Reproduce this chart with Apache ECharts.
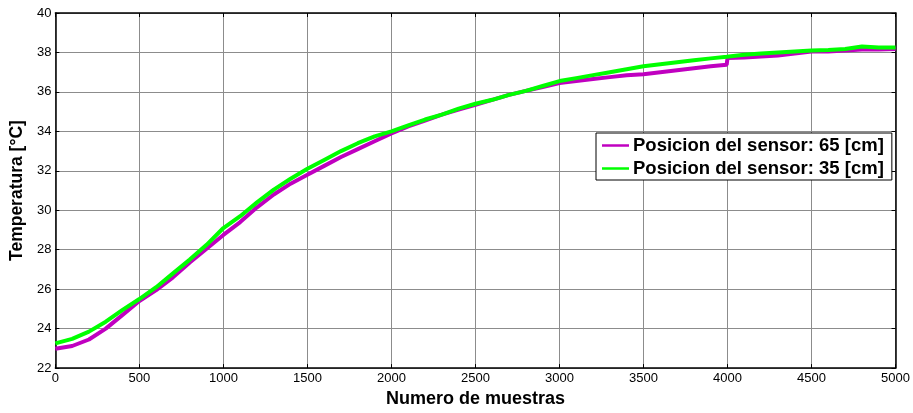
<!DOCTYPE html>
<html>
<head>
<meta charset="utf-8">
<script src="https://cdn.jsdelivr.net/npm/echarts@6/dist/echarts.min.js"></script>
<style>
  html, body { margin: 0; padding: 0; background: #fff; }
  #chart { width: 913px; height: 413px; }
</style>
</head>
<body>
<div id="chart"></div>
<script>
// Sample index of each reading
const samples = [0, 100, 200, 300, 400, 500, 600, 700, 800, 900,
  1000, 1100, 1200, 1300, 1400, 1500, 1600, 1700, 1800, 1900,
  2000, 2100, 2200, 2300, 2400, 2500, 2600, 2700, 2800, 2900,
  3000, 3100, 3200, 3300, 3400, 3500, 3600, 3700, 3800, 3900,
  3995, 4000, 4100, 4200, 4300, 4400, 4500, 4600, 4700, 4800, 4900, 5000];

// Temperature [°C], sensor at 65 cm
const temp65 = [22.98, 23.12, 23.45, 24.0, 24.7, 25.4, 25.95, 26.6, 27.35, 28.05,
  28.75, 29.4, 30.15, 30.8, 31.35, 31.8, 32.25, 32.7, 33.1, 33.5,
  33.9, 34.25, 34.55, 34.85, 35.1, 35.35, 35.6, 35.85, 36.05, 36.25,
  36.45, 36.55, 36.65, 36.75, 36.85, 36.9, 37.0, 37.1, 37.2, 37.3,
  37.38, 37.72, 37.75, 37.8, 37.85, 37.95, 38.05, 38.05, 38.1, 38.15, 38.15, 38.18];

// Temperature [°C], sensor at 35 cm
const temp35 = [23.25, 23.48, 23.85, 24.35, 24.95, 25.5, 26.1, 26.8, 27.5, 28.25,
  29.1, 29.7, 30.4, 31.05, 31.6, 32.1, 32.55, 33.0, 33.4, 33.75,
  34.0, 34.3, 34.6, 34.85, 35.15, 35.4, 35.6, 35.85, 36.05, 36.3,
  36.55, 36.7, 36.85, 37.0, 37.15, 37.3, 37.4, 37.5, 37.6, 37.7,
  37.78, 37.8, 37.88, 37.95, 38.0, 38.05, 38.1, 38.12, 38.18, 38.3, 38.25, 38.25];

const seriesNames = ['Posicion del sensor: 65 [cm]', 'Posicion del sensor: 35 [cm]'];
const xTitle = 'Numero de muestras';
const yTitle = 'Temperatura [°C]';

const pairs = (ys) => samples.map((s, i) => [s, ys[i]]);

const FONT = 'Liberation Sans, Arial, sans-serif';
const gridLine = { show: true, lineStyle: { color: '#8c8c8c', width: 1 } };
const frame = { show: true, onZero: false, lineStyle: { color: '#000', width: 1.5 } };
const innerTick = { show: true, inside: true, length: 4, lineStyle: { color: '#000', width: 1 } };

const chart = echarts.init(document.getElementById('chart'), null, { renderer: 'canvas' });
chart.setOption({
  animation: false,
  backgroundColor: '#fff',
  grid: { left: 54, right: 16, top: 13, bottom: 35 },
  legend: {
    data: seriesNames,
    orient: 'vertical',
    left: 596,
    top: 133,
    backgroundColor: '#fff',
    borderColor: '#000',
    borderWidth: 1,
    borderRadius: 0,
    padding: [3, 8, 2, 6],
    itemGap: 4,
    itemWidth: 27,
    itemHeight: 2.5,
    icon: 'rect',
    textStyle: { fontFamily: FONT, fontWeight: 'bold', fontSize: 18.5, color: '#000', padding: [0, 0, 0, -1] }
  },
  xAxis: [{
    type: 'value', min: 0, max: 5000, interval: 500,
    name: xTitle, nameLocation: 'middle', nameGap: 18,
    nameTextStyle: { fontFamily: FONT, fontWeight: 'bold', fontSize: 18, color: '#000' },
    axisLine: frame, axisTick: innerTick, splitLine: gridLine,
    axisLabel: { fontFamily: FONT, fontSize: 13, color: '#000', margin: 4, formatter: (v) => String(v) }
  }, {
    type: 'value', min: 0, max: 5000, interval: 500, position: 'top',
    axisLine: frame, axisTick: innerTick, splitLine: { show: false }, axisLabel: { show: false }
  }],
  yAxis: [{
    type: 'value', min: 22, max: 40, interval: 2,
    name: yTitle, nameLocation: 'middle', nameGap: 25,
    nameTextStyle: { fontFamily: FONT, fontWeight: 'bold', fontSize: 17.5, color: '#000' },
    axisLine: frame, axisTick: innerTick, splitLine: gridLine,
    axisLabel: { fontFamily: FONT, fontSize: 13, color: '#000', margin: 4 }
  }, {
    type: 'value', min: 22, max: 40, interval: 2, position: 'right',
    axisLine: frame, axisTick: innerTick, splitLine: { show: false }, axisLabel: { show: false }
  }],
  series: [{
    name: seriesNames[0], type: 'line', data: pairs(temp65),
    showSymbol: false, symbol: 'none', color: '#c000c0',
    lineStyle: { color: '#c000c0', width: 4 }
  }, {
    name: seriesNames[1], type: 'line', data: pairs(temp35),
    showSymbol: false, symbol: 'none', color: '#00ff00',
    lineStyle: { color: '#00ff00', width: 4 }
  }]
});
</script>
</body>
</html>
